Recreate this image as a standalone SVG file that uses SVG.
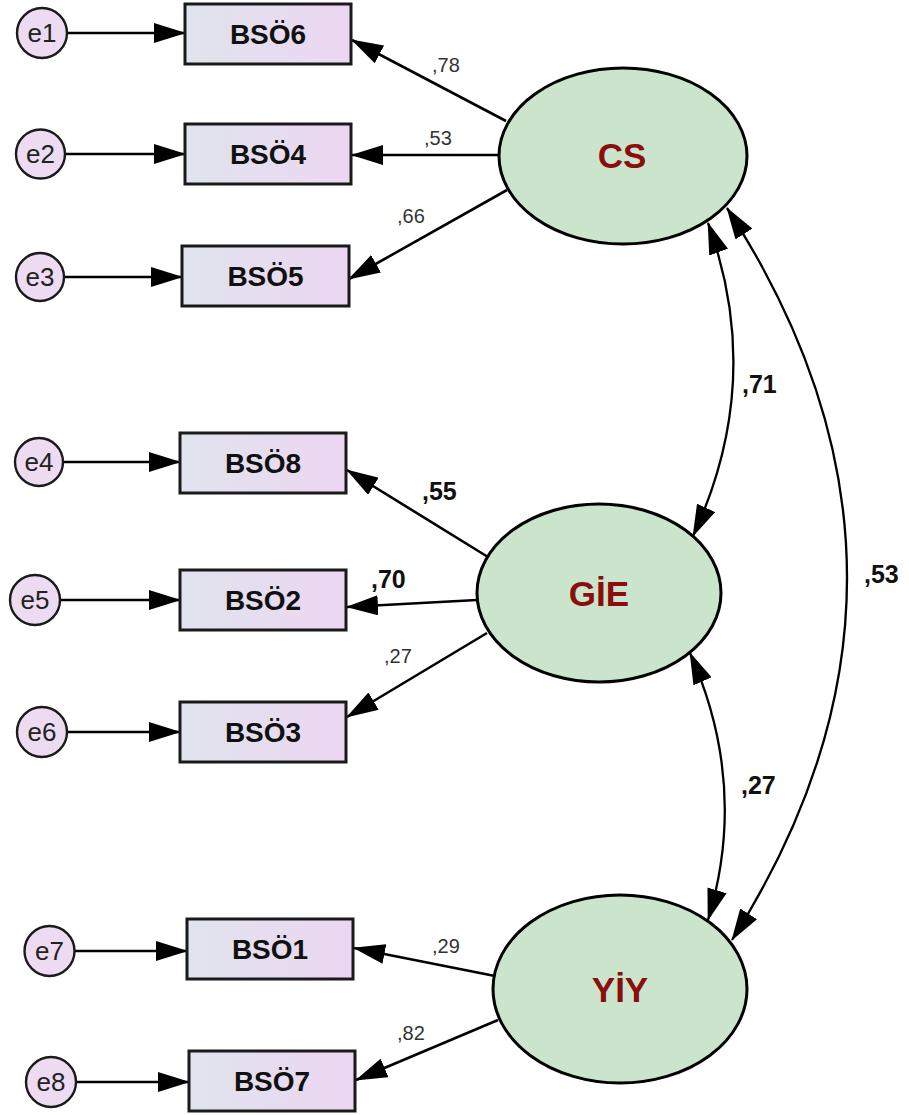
<svg xmlns="http://www.w3.org/2000/svg" width="909" height="1115" viewBox="0 0 909 1115">
  <defs>
    <linearGradient id="boxFill" x1="0" y1="0" x2="1" y2="0">
      <stop offset="0" stop-color="#e0e4ed"/>
      <stop offset="1" stop-color="#ecd6f2"/>
    </linearGradient>
    <marker id="head" markerUnits="userSpaceOnUse" markerWidth="32" markerHeight="20" refX="31" refY="10" orient="auto-start-reverse">
      <path d="M0,0 L32,10 L0,20 z" fill="#000"/>
    </marker>
    <style>
      .box { fill: url(#boxFill); stroke: #1a1a1a; stroke-width: 3; }
      .err { fill: #eddcf1; stroke: #1a1a1a; stroke-width: 2.4; }
      .lat { fill: #cae5cc; stroke: #000; stroke-width: 3; }
      .boxtxt { font-family: "Liberation Sans", Arial, sans-serif; font-weight: bold; font-size: 28px; fill: #111; text-anchor: middle; }
      .errtxt { font-family: "Liberation Sans", Arial, sans-serif; font-size: 26px; fill: #222; text-anchor: middle; }
      .lattxt { font-family: "Liberation Sans", Arial, sans-serif; font-weight: bold; font-size: 35px; fill: #8b0d0d; text-anchor: middle; }
      .w { font-family: "Liberation Sans", Arial, sans-serif; font-size: 20px; fill: #333; }
      .wb { font-family: "Liberation Sans", Arial, sans-serif; font-weight: bold; font-size: 25px; fill: #111; }
      .arr { fill: none; stroke: #000; stroke-width: 2.6; marker-end: url(#head); }
      .cov { fill: none; stroke: #000; stroke-width: 2.3; marker-start: url(#head); marker-end: url(#head); }
    </style>
  </defs>

  <!-- paths: error terms, loadings, covariances -->
  <g id="connectors">
    <line class="arr" x1="67" y1="33" x2="185" y2="33"/>
    <line class="arr" x1="65" y1="154" x2="185" y2="154"/>
    <line class="arr" x1="64" y1="277" x2="182" y2="277"/>
    <line class="arr" x1="63" y1="462" x2="180" y2="462"/>
    <line class="arr" x1="60" y1="600" x2="180" y2="600"/>
    <line class="arr" x1="67" y1="732" x2="180" y2="732"/>
    <line class="arr" x1="75" y1="951" x2="187" y2="951"/>
    <line class="arr" x1="76" y1="1082" x2="189" y2="1082"/>

    <line class="arr" x1="506" y1="121" x2="352" y2="40"/>
    <line class="arr" x1="499" y1="155" x2="352" y2="155"/>
    <line class="arr" x1="507" y1="190" x2="349" y2="279"/>

    <line class="arr" x1="488" y1="557" x2="347" y2="470"/>
    <line class="arr" x1="477" y1="600" x2="347" y2="607"/>
    <line class="arr" x1="487" y1="633" x2="347" y2="717"/>

    <line class="arr" x1="495" y1="976" x2="354" y2="948"/>
    <line class="arr" x1="498" y1="1020" x2="356" y2="1080"/>

    <path class="cov" d="M708,223 Q765.5,380.5 693,536"/>
    <path class="cov" d="M727,208 Q964.5,574 732,940"/>
    <path class="cov" d="M690,653 Q749,785.5 708,920"/>

    <text class="w" x="432" y="72">,78</text>
    <text class="w" x="424" y="145">,53</text>
    <text class="w" x="397" y="223">,66</text>
    <text class="wb" x="422" y="500">,55</text>
    <text class="wb" x="371" y="588">,70</text>
    <text class="w" x="384" y="663">,27</text>
    <text class="w" x="432" y="953">,29</text>
    <text class="w" x="397" y="1040">,82</text>
    <text class="wb" x="742" y="393">,71</text>
    <text class="wb" x="864" y="583">,53</text>
    <text class="wb" x="741" y="794">,27</text>
  </g>

  <!-- error terms -->
  <g id="e1"><circle class="err" cx="42" cy="33" r="25"/><text class="errtxt" x="42" y="42">e1</text></g>
  <g id="e2"><circle class="err" cx="40.5" cy="154" r="24.5"/><text class="errtxt" x="40.5" y="163">e2</text></g>
  <g id="e3"><circle class="err" cx="40" cy="277" r="24"/><text class="errtxt" x="40" y="286">e3</text></g>
  <g id="e4"><circle class="err" cx="39" cy="462" r="24"/><text class="errtxt" x="39" y="471">e4</text></g>
  <g id="e5"><circle class="err" cx="35" cy="600" r="25"/><text class="errtxt" x="35" y="609">e5</text></g>
  <g id="e6"><circle class="err" cx="42" cy="732" r="25"/><text class="errtxt" x="42" y="741">e6</text></g>
  <g id="e7"><circle class="err" cx="49.5" cy="951" r="25"/><text class="errtxt" x="49.5" y="960">e7</text></g>
  <g id="e8"><circle class="err" cx="51" cy="1082" r="25"/><text class="errtxt" x="51" y="1091">e8</text></g>

  <!-- observed indicators -->
  <g id="BSO6"><rect class="box" x="185" y="4" width="166" height="60"/><text class="boxtxt" x="268" y="44">BSÖ6</text></g>
  <g id="BSO4"><rect class="box" x="185" y="124" width="166" height="60"/><text class="boxtxt" x="268" y="164">BSÖ4</text></g>
  <g id="BSO5"><rect class="box" x="182" y="246" width="167" height="60"/><text class="boxtxt" x="265.5" y="286">BSÖ5</text></g>
  <g id="BSO8"><rect class="box" x="180" y="433" width="166" height="60"/><text class="boxtxt" x="263" y="473">BSÖ8</text></g>
  <g id="BSO2"><rect class="box" x="180" y="570" width="166" height="60"/><text class="boxtxt" x="263" y="610">BSÖ2</text></g>
  <g id="BSO3"><rect class="box" x="180" y="702" width="166" height="60"/><text class="boxtxt" x="263" y="742">BSÖ3</text></g>
  <g id="BSO1"><rect class="box" x="187" y="919" width="166" height="60"/><text class="boxtxt" x="270" y="959">BSÖ1</text></g>
  <g id="BSO7"><rect class="box" x="189" y="1051" width="166" height="60"/><text class="boxtxt" x="272" y="1091">BSÖ7</text></g>

  <!-- latent factors -->
  <g id="CS"><ellipse class="lat" cx="623" cy="156" rx="124" ry="88"/><text class="lattxt" x="622" y="168">CS</text></g>
  <g id="GIE"><ellipse class="lat" cx="599" cy="593" rx="122" ry="89"/><text class="lattxt" x="599" y="606">GİE</text></g>
  <g id="YIY"><ellipse class="lat" cx="620" cy="989" rx="127" ry="94"/><text class="lattxt" x="620" y="1002">YİY</text></g>
</svg>
